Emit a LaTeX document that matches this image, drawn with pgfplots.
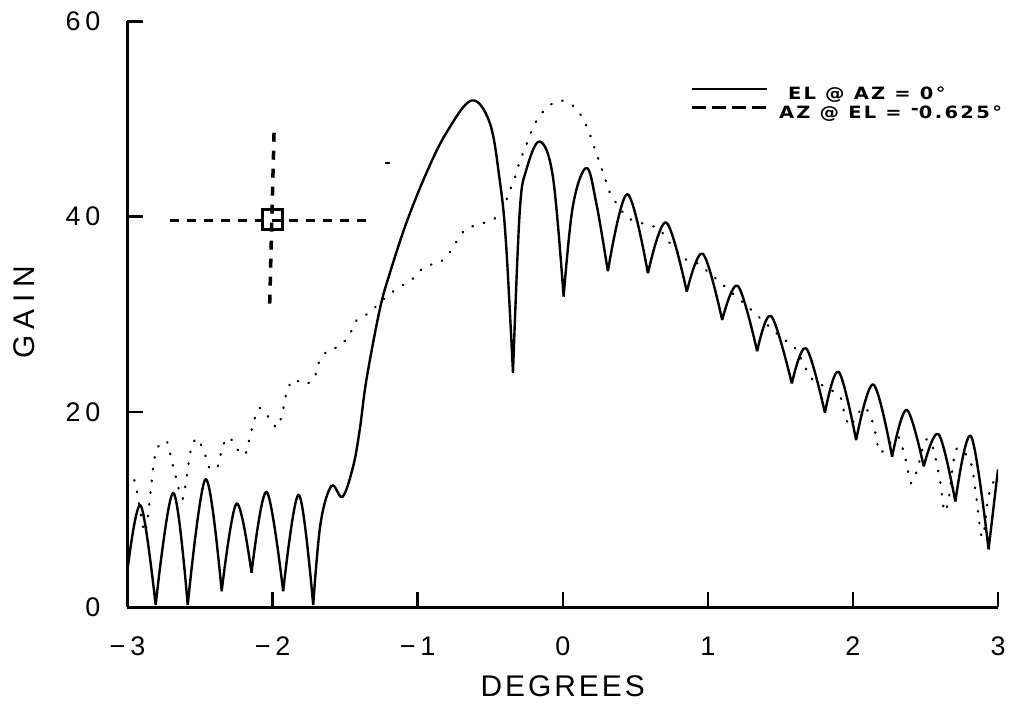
\documentclass[border=0pt]{standalone}
\usepackage{fontspec}
\setmainfont{Liberation Sans}
\newfontfamily\plotfont[LetterSpace=10]{Liberation Sans}
\newfontfamily\tickfont[LetterSpace=18]{Liberation Sans}
\newfontfamily\gainfont[LetterSpace=22]{Liberation Sans}
\newfontfamily\legfont[LetterSpace=12]{DejaVu Sans}
\newcommand{\leg}[1]{\scalebox{1.15}[1]{\legfont\bfseries\fontsize{17}{19}\selectfont #1}}
\usepackage{pgfplots}
\pgfplotsset{compat=1.18}
\begin{document}
\begin{tikzpicture}
\path[use as bounding box] (-127.5bp,-97bp) rectangle (905.5bp,607bp);
\begin{axis}[
  at={(0,0)}, anchor=south west,
  scale only axis, width=870.5bp, height=585.5bp,
  xmin=-3, xmax=3, ymin=0, ymax=60,
  axis x line*=bottom, axis y line*=left,
  axis line style={line width=3bp, -},
  xtick={-3,-2,-1,0,1,2,3}, ytick={0,20,40,60},
  xticklabels={−3,−2,−1,0,1,2,3},
  yticklabels={0,20,40,60},
  tick style={line width=2.5bp, black},
  major tick length=15bp,
  tick align=inside,
  ticklabel style={font=\tickfont\fontsize{27}{30}\selectfont, inner sep=0pt},
  xticklabel style={anchor=north, yshift=-30bp},
  yticklabel style={anchor=east, xshift=-27bp},
  xlabel={DEGREES}, ylabel={GAIN},
  xlabel style={font=\plotfont\fontsize{30}{32}\selectfont, at={(axis description cs:0.5,-0.135)}, anchor=center},
  ylabel style={font=\gainfont\fontsize{30}{32}\selectfont, at={(axis description cs:-0.119,0.503)}, anchor=center},
  unbounded coords=jump,
  legend style={at={(axis description cs:0.646,0.889)}, anchor=north west, draw=none, fill=none,
    nodes={inner sep=0pt}, row sep=5bp, inner sep=0pt},
  legend image code/.code={\draw[#1] (0bp,5bp) -- (75bp,5bp);},
  legend cell align=left,
]
\addplot[black, line width=2.4bp, smooth, tension=0.6, line join=round] coordinates {
(-3.0,3.8) (-2.909,10.4) (-2.806,0.2) (nan,nan)
(-2.806,0.2) (-2.685,11.7) (-2.585,0.2) (nan,nan)
(-2.585,0.2) (-2.461,13.1) (-2.351,1.6) (nan,nan)
(-2.351,1.6) (-2.248,10.6) (-2.145,3.5) (nan,nan)
(-2.145,3.5) (-2.041,11.8) (-1.927,1.6) (nan,nan)
(-1.927,1.6) (-1.819,11.5) (-1.720,0.2) (nan,nan)
(-1.720,0.2) (-1.67,8.5) (-1.594,12.4) (-1.518,11.3) (-1.445,14.4) (-1.399,18.2) (-1.353,23.3) (-1.261,30.5) (-1.192,34.2) (-1.077,39.4) (-0.939,44.5) (-0.802,48.6) (-0.629,51.9) (-0.503,49.6) (-0.435,43.8) (-0.392,37.5) (-0.343,24.0) (nan,nan)
(-0.343,24.0) (-0.297,40.4) (-0.251,44.8) (-0.159,47.7) (-0.068,44.1) (0.006,31.8) (nan,nan)
(0.006,31.8) (0.070,41.1) (0.163,45.0) (0.231,41.4) (0.311,34.4) (nan,nan)
(0.311,34.4) (0.445,42.3) (0.587,34.2) (nan,nan)
(0.587,34.2) (0.713,39.4) (0.855,32.3) (nan,nan)
(0.855,32.3) (0.966,36.2) (1.099,29.4) (nan,nan)
(1.099,29.4) (1.207,32.9) (1.340,26.2) (nan,nan)
(1.340,26.2) (1.437,29.8) (1.579,22.9) (nan,nan)
(1.579,22.9) (1.678,26.5) (1.807,19.9) (nan,nan)
(1.807,19.9) (1.902,24.1) (2.022,17.1) (nan,nan)
(2.022,17.1) (2.141,22.8) (2.270,15.4) (nan,nan)
(2.270,15.4) (2.371,20.2) (2.488,14.4) (nan,nan)
(2.488,14.4) (2.591,17.7) (2.706,10.8) (nan,nan)
(2.706,10.8) (2.814,17.5) (2.935,5.9) (nan,nan)
(2.935,5.9) (3.0,14.1)
};
\addlegendentry{\hspace*{20bp}\leg{EL @ AZ = 0°}}
\addplot[black, line width=2.2bp, line cap=round, dash pattern=on 0.8bp off 11bp, smooth, forget plot] coordinates {
(-3.0,14.0) (-2.95,12.9) (-2.92,10.5) (-2.88,7.6) (-2.85,10.5) (-2.82,14.7) (-2.79,16.4) (-2.73,17.0) (-2.70,15.3) (-2.67,13.5) (-2.62,11.1) (-2.58,14.6) (-2.56,16.3) (-2.52,17.3) (-2.47,15.8) (-2.43,14.1) (-2.37,14.6) (-2.35,16.3) (-2.30,17.4) (-2.24,16.1) (-2.19,15.6) (-2.16,17.2) (-2.13,19.0) (-2.09,20.4) (-2.03,19.5) (-1.97,18.4) (-1.93,20.0) (-1.91,21.6) (-1.86,23.3) (-1.78,22.8) (-1.71,23.5) (-1.69,24.8) (-1.62,26.3) (-1.54,26.7) (-1.47,27.9) (-1.42,29.4) (-1.34,30.1) (-1.20,32.0) (-1.11,32.9) (-1.03,33.7) (-0.95,34.9) (-0.85,35.3) (-0.78,36.3) (-0.73,37.5) (-0.67,38.7) (-0.58,39.2) (-0.48,39.7) (-0.41,40.7) (-0.38,42.1) (-0.33,44.0) (-0.30,45.5) (-0.25,47.4) (-0.22,48.6) (-0.17,50.1) (-0.10,51.3) (-0.02,51.9) (0.06,51.5) (0.13,50.3) (0.18,48.7) (0.22,47.0) (0.29,44.0) (0.33,42.3) (0.44,40.0) (0.53,39.4) (0.66,38.8) (0.71,37.8) (0.78,36.6) (0.85,35.6) (0.93,35.2) (1.02,34.1) (1.09,33.2) (1.25,31.1) (1.31,30.3) (1.47,28.1) (1.61,26.4) (1.65,25.2) (1.71,23.5) (1.78,22.8) (1.91,21.6) (1.94,19.9) (1.98,18.5) (2.02,19.5) (2.08,20.5) (2.13,19.2) (2.16,17.5) (2.19,15.8) (2.30,17.5) (2.34,16.4) (2.37,14.7) (2.40,12.7) (2.44,13.9) (2.50,17.1) (2.55,16.4) (2.60,13.0) (2.63,9.8) (2.66,11.0) (2.69,14.6) (2.72,16.3) (2.81,14.9) (2.85,11.3) (2.88,7.7) (2.90,7.4) (2.93,11.0) (2.96,12.5) (2.99,13.4)
};
\addplot[black, line width=3.5bp, dash pattern=on 9bp off 8bp, forget plot] coordinates {(-2.71,39.6) (-1.35,39.6)};
\addplot[black, line width=3.5bp, dash pattern=on 9bp off 9bp, forget plot] coordinates {(-1.99,48.6) (-2.02,31.0)};
\addplot[black, only marks, mark=square, mark size=10bp, mark options={line width=3bp, solid}, forget plot] coordinates {(-2.003,39.7)};
\addplot[black, only marks, mark=-, mark size=2.5bp, mark options={line width=1.5bp}, forget plot] coordinates {(-1.21,45.5)};
\addlegendimage{black, line width=3bp, dash pattern=on 14bp off 6bp}
\addlegendentry{\hspace*{11bp}\leg{AZ @ EL = \raisebox{0.45ex}{-}0.625°}}
\end{axis}
\end{tikzpicture}
\end{document}
